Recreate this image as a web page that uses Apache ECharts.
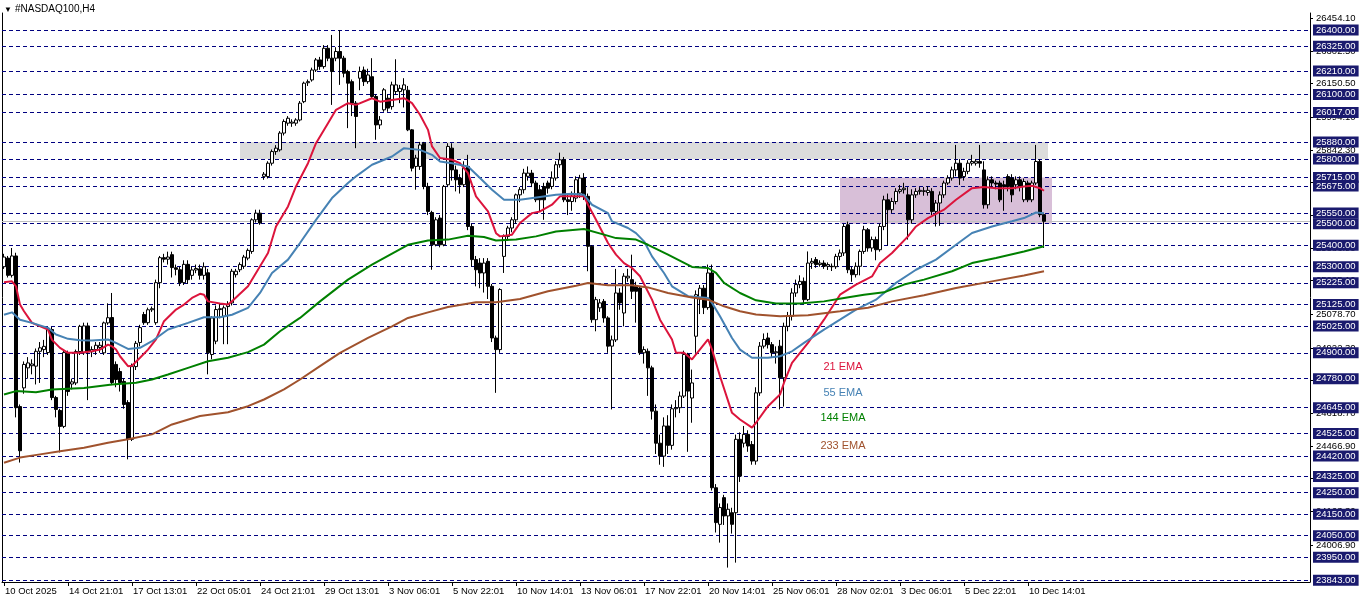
<!DOCTYPE html>
<html><head><meta charset="utf-8">
<script src="https://cdn.jsdelivr.net/npm/echarts@6/dist/echarts.min.js"></script>
<style>html,body{margin:0;padding:0;background:#fff}#c{width:1362px;height:603px}</style>
</head><body><div id="c"></div>
<script>
// ---- DATA ----
const title = '#NASDAQ100,H4';
const xTickLabels = ['10 Oct 2025','14 Oct 21:01','17 Oct 13:01','22 Oct 05:01','24 Oct 21:01','29 Oct 13:01','3 Nov 06:01','5 Nov 22:01','10 Nov 14:01','13 Nov 06:01','17 Nov 22:01','20 Nov 14:01','25 Nov 06:01','28 Nov 02:01','3 Dec 06:01','5 Dec 22:01','10 Dec 14:01'];
const barsPerTick = 16;
const totalSlots = 327;
const yScaleLabels = [26454.1,26302.5,26150.5,25994.1,25842.3,25690.5,25538.7,25386.9,25235.1,25078.7,24922.3,24770.5,24618.7,24466.9,24315.1,24163.3,24006.9];
const levelLines = [26400,26325,26210,26100,26017,25880,25800,25715,25675,25550,25500,25400,25300,25225,25125,25025,24900,24780,24645,24525,24420,24325,24250,24150,24050,23950,23843];
const bidPrice = 25509;
const grayZone = {from: 59, to: 261, low: 25800, high: 25880};
const purpleZone = {from: 209, to: 262, low: 25500, high: 25715};
// candles: [open, close, low, high]
const candles = [
[25300,25345,25290,25360],[25340,25260,25250,25350],[25260,25350,25250,25387],[25350,24645,24600,25365],[24650,24445,24390,24660],
[24737,24846,24710,24860],[24830,24853,24780,24880],[24840,24848,24800,24870],[24838,24907,24753,24920],[24907,24923,24760,24950],
[24915,24930,24880,24960],[24901,25008,24890,25020],[25008,24692,24680,25020],[24692,24637,24600,24700],[24632,24558,24437,24640],
[24558,24901,24550,24910],[24901,24720,24700,24910],[24755,24765,24730,24780],[24760,24906,24750,24915],[24906,25023,24890,25030],
[24900,25025,24890,25040],[25025,24905,24680,25040],[24905,24915,24880,24930],[24915,24935,24890,24950],[24925,24935,24900,24950],
[24900,25039,24890,25045],[25039,25063,25030,25130],[25064,24762,24750,25178],[24846,24776,24740,24860],[24813,24762,24720,24830],
[24767,24660,24640,24780],[24669,24498,24405,24680],[24498,24836,24490,24850],[24836,24944,24820,24955],[24948,25017,24930,25030],
[25078,25040,25030,25090],[25040,25100,25030,25110],[25100,25105,25090,25115],[25040,25226,25030,25240],[25226,25342,25200,25350],
[25342,25335,25320,25360],[25335,25345,25310,25370],[25356,25296,25250,25370],[25295,25288,25260,25310],[25286,25226,25210,25300],
[25226,25311,25215,25330],[25311,25240,25220,25330],[25260,25285,25240,25300],[25285,25292,25270,25310],[25290,25260,25240,25310],
[25260,25300,25240,25320],[25272,24900,24800,25290],[24892,25062,24870,25070],[24954,25101,24940,25120],[25101,25105,25060,25130],
[25070,25109,24940,25120],[25115,25124,24940,25140],[25132,25279,25120,25290],[25263,25279,25250,25290],[25286,25310,25275,25320],
[25302,25345,25290,25355],[25340,25376,25330,25385],[25371,25518,25360,25525],[25518,25549,25505,25565],[25549,25503,25495,25565],
[25720,25730,25704,25740],[25719,25781,25710,25790],[25781,25835,25770,25845],[25835,25851,25820,25865],[25843,25921,25835,25930],
[25921,25975,25910,25985],[25967,25990,25955,26000],[25967,25972,25950,25985],[25967,25982,25955,25990],[25982,26060,25975,26070],
[26067,26153,26060,26160],[26155,26160,26140,26170],[26168,26214,26160,26225],[26214,26261,26205,26270],[26261,26230,26215,26275],
[26230,26315,26220,26330],[26315,26269,26255,26330],[26269,26207,26052,26377],[26269,26300,26255,26320],[26300,26269,26145,26400],
[26269,26199,26180,26280],[26207,26153,25944,26215],[26160,26060,26000,26170],[26060,25998,25851,26070],[26176,26207,26120,26230],
[26214,26160,26140,26230],[26160,26191,26150,26220],[26183,26091,26080,26269],[26091,25959,25890,26100],[25959,25982,25940,26000],
[26029,26122,26020,26130],[26083,26037,26020,26100],[26044,26145,26030,26160],[26114,26145,26100,26264],[26114,26129,26060,26145],
[26122,26145,26040,26176],[26120,25936,25930,26140],[25936,25758,25743,25940],[25766,25805,25658,25820],[25766,25866,25750,25880],
[25874,25673,25660,25880],[25673,25557,25540,25690],[25552,25402,25286,25560],[25402,25518,25395,25530],[25526,25402,25390,25540],
[25402,25673,25395,25680],[25681,25859,25670,25874],[25851,25750,25700,25874],[25750,25704,25650,25770],[25712,25681,25640,25730],
[25681,25758,25670,25790],[25766,25487,25470,25820],[25487,25333,25300,25500],[25333,25286,25209,25350],[25317,25271,25200,25340],
[25271,25317,25180,25340],[25325,25209,25150,25340],[25209,24969,24950,25220],[24969,24915,24714,24980],[24915,25194,24900,25200],
[25348,25441,25271,25450],[25441,25480,25420,25490],[25480,25518,25460,25530],[25518,25634,25500,25640],[25634,25658,25600,25670],
[25658,25735,25640,25755],[25720,25735,25700,25766],[25735,25689,25670,25750],[25689,25611,25600,25700],[25658,25611,25557,25680],
[25673,25611,25518,25690],[25689,25665,25640,25700],[25673,25712,25660,25743],[25712,25774,25700,25790],[25774,25797,25760,25830],
[25797,25611,25600,25810],[25611,25603,25540,25640],[25603,25627,25560,25650],[25619,25704,25600,25720],[25642,25712,25620,25727],
[25712,25627,25610,25735],[25627,25395,25279,25640],[25395,25054,25040,25400],[25054,25147,25000,25160],[25109,25132,25090,25150],
[25139,25062,25040,25150],[25062,24931,24900,25070],[24931,24960,24637,24980],[24960,25178,24950,25290],[25178,25132,25100,25200],
[25085,25256,25023,25270],[25248,25256,25230,25290],[25240,25186,25150,25356],[25209,25186,25040,25230],[25201,24900,24890,25210],
[24900,24915,24850,24930],[24907,24830,24700,24920],[24830,24629,24590,24840],[24629,24480,24430,24660],[24480,24420,24380,24520],
[24420,24560,24370,24600],[24560,24470,24430,24610],[24470,24640,24450,24660],[24640,24645,24600,24680],[24645,24699,24620,24720],
[24699,24892,24690,24910],[24892,24722,24440,24900],[24690,24760,24575,24822],[24977,25170,24900,25190],[25150,25200,25080,25215],
[25200,25110,25080,25215],[25110,25271,25100,25310],[25271,24273,24260,25310],[24273,24111,24065,24290],[24103,24181,24018,24200],
[24227,24142,24100,24240],[24142,24173,23902,24200],[24157,24103,24060,24180],[24157,24498,23925,24520],[24498,24327,24300,24530],
[24480,24521,24460,24560],[24521,24467,24440,24540],[24474,24397,24380,24490],[24397,24714,24380,24740],[24714,24931,24700,24950],
[24931,24962,24920,24990],[24969,24938,24920,24993],[24938,24900,24880,24950],[24900,24905,24850,24930],[24931,24784,24637,24960],
[24784,25023,24650,25040],[25023,25070,25000,25090],[25070,25178,25050,25200],[25178,25217,25160,25240],[25217,25232,25200,25260],
[25232,25147,25130,25250],[25147,25317,25140,25371],[25317,25325,25290,25340],[25333,25310,25295,25345],[25310,25317,25300,25330],
[25317,25302,25290,25330],[25302,25310,25285,25320],[25302,25300,25280,25315],[25300,25348,25290,25360],[25348,25364,25330,25380],
[25364,25487,25350,25500],[25495,25286,25270,25510],[25286,25263,25230,25300],[25263,25302,25250,25320],[25302,25371,25260,25380],
[25371,25472,25360,25490],[25472,25387,25370,25480],[25387,25426,25370,25440],[25426,25379,25330,25440],[25379,25487,25370,25500],
[25487,25611,25470,25630],[25611,25565,25400,25640],[25565,25603,25550,25620],[25603,25650,25590,25665],[25650,25658,25640,25680],
[25658,25665,25640,25690],[25634,25518,25426,25670],[25518,25634,25500,25660],[25634,25650,25620,25665],[25650,25655,25635,25670],
[25650,25653,25630,25670],[25645,25655,25630,25675],[25650,25557,25540,25665],[25557,25596,25487,25610],[25596,25634,25490,25650],
[25634,25689,25620,25700],[25689,25712,25680,25725],[25712,25750,25700,25765],[25750,25781,25720,25866],[25781,25712,25680,25800],
[25719,25743,25700,25760],[25743,25781,25730,25795],[25781,25789,25770,25820],[25781,25790,25770,25800],[25789,25781,25760,25866],
[25750,25588,25570,25790],[25588,25704,25570,25720],[25704,25689,25670,25720],[25689,25684,25660,25700],[25689,25611,25600,25700],
[25681,25673,25560,25700],[25719,25673,25650,25730],[25712,25634,25600,25730],[25681,25704,25660,25720],[25704,25673,25650,25720],
[25611,25696,25600,25710],[25689,25611,25600,25700],[25611,25689,25600,25700],[25689,25789,25680,25866],[25789,25542,25530,25800],
[25542,25511,25387,25550]
];
// EMA readings: [barIndex, value]
const ema21 = [[0,25228],[2,25232],[3,25209],[4,25124],[5,25093],[7,25039],[11,25008],[12,24960],[14,24923],[16,24900],[19,24900],[22,24907],[24,24915],[26,24938],[27,24930],[28,24915],[29,24884],[31,24838],[32,24840],[34,24877],[36,24915],[38,24962],[40,25047],[43,25101],[45,25124],[47,25155],[49,25174],[50,25170],[51,25139],[54,25129],[56,25124],[57,25140],[61,25209],[63,25271],[66,25364],[68,25487],[71,25580],[73,25673],[76,25781],[78,25874],[81,25967],[83,26029],[86,26060],[88,26052],[92,26083],[94,26067],[97,26075],[100,26083],[102,26060],[104,26006],[106,25936],[107,25859],[109,25805],[112,25797],[114,25781],[116,25735],[118,25627],[121,25557],[123,25456],[124,25441],[127,25449],[129,25503],[132,25549],[134,25557],[137,25588],[139,25627],[142,25627],[145,25627],[146,25588],[148,25518],[151,25410],[153,25356],[155,25317],[157,25294],[159,25256],[162,25147],[164,25054],[167,24962],[168,24900],[170,24900],[172,24869],[176,24962],[177,24915],[179,24791],[182,24621],[184,24590],[187,24552],[188,24575],[191,24652],[194,24706],[195,24761],[197,24853],[201,24946],[205,25054],[209,25170],[213,25217],[217,25255],[219,25317],[222,25364],[226,25441],[228,25487],[231,25526],[235,25565],[238,25611],[242,25665],[245,25670],[248,25665],[252,25665],[255,25673],[257,25676],[259,25665],[260,25653]];
const ema55 = [[0,25077],[2,25088],[4,25054],[7,25039],[11,25016],[13,24985],[16,24965],[19,24958],[22,24957],[26,24962],[28,24946],[31,24918],[34,24923],[37,24954],[41,25008],[46,25039],[50,25065],[54,25065],[57,25077],[61,25109],[64,25178],[67,25271],[71,25333],[74,25410],[78,25518],[82,25619],[86,25689],[88,25720],[92,25774],[97,25812],[100,25851],[104,25843],[107,25820],[109,25789],[112,25781],[116,25766],[119,25712],[122,25658],[125,25611],[129,25611],[134,25624],[138,25634],[142,25639],[145,25634],[147,25588],[151,25549],[152,25511],[156,25480],[158,25456],[160,25418],[162,25348],[165,25271],[167,25209],[171,25163],[176,25155],[177,25132],[179,25070],[182,24969],[184,24915],[187,24877],[191,24877],[194,24884],[197,24907],[200,24946],[205,25008],[209,25054],[213,25101],[218,25147],[223,25225],[228,25286],[233,25333],[238,25402],[242,25457],[247,25487],[252,25511],[255,25526],[258,25552],[260,25549]];
const ema144 = [[0,24706],[3,24722],[8,24717],[12,24730],[20,24737],[27,24753],[33,24761],[37,24776],[41,24799],[46,24830],[51,24861],[56,24877],[61,24903],[65,24938],[69,25000],[74,25062],[79,25139],[86,25240],[92,25310],[101,25402],[106,25422],[111,25426],[116,25444],[120,25438],[123,25422],[128,25426],[133,25441],[138,25464],[145,25475],[150,25449],[153,25433],[158,25426],[161,25402],[166,25356],[172,25299],[176,25294],[178,25271],[180,25225],[184,25178],[188,25144],[193,25129],[199,25129],[205,25139],[210,25155],[215,25170],[220,25181],[225,25217],[230,25240],[237,25279],[242,25317],[248,25341],[255,25371],[260,25395]];
const ema233 = [[0,24389],[4,24413],[9,24428],[14,24443],[20,24459],[26,24482],[31,24498],[37,24521],[42,24567],[49,24606],[56,24624],[61,24652],[65,24683],[70,24730],[74,24776],[79,24838],[84,24900],[91,24969],[97,25023],[101,25062],[106,25088],[111,25113],[118,25135],[123,25135],[129,25150],[136,25186],[143,25212],[146,25224],[151,25214],[157,25214],[161,25204],[166,25178],[172,25157],[176,25147],[180,25116],[184,25093],[188,25078],[194,25070],[201,25075],[209,25093],[216,25109],[222,25139],[230,25167],[238,25201],[247,25232],[255,25259],[260,25279]];
const emaNames = ['21 EMA','55 EMA','144 EMA','233 EMA'];
const emaColors = ['#dc143c','#4682b4','#008000','#a0522d'];

// ---- CHART ----
const FONT = 'Liberation Sans, Arial, sans-serif';
const cats = [];
for (let i = 0; i < totalSlots; i++) {
  cats.push(i % barsPerTick === 0 && (i / barsPerTick) < xTickLabels.length ? xTickLabels[i / barsPerTick] : '');
}
const isTick = (i) => i % barsPerTick === 0 && (i / barsPerTick) < xTickLabels.length;
const YMIN = 23835, YMAX = 26479;
const chart = echarts.init(document.getElementById('c'), null, {renderer: 'canvas'});
const emaSeries = [ema21, ema55, ema144, ema233].map((d, k) => ({
  type: 'line', name: emaNames[k], data: d, showSymbol: false, symbol: 'none',
  lineStyle: {color: emaColors[k], width: 2}, z: 6, silent: true, animation: false
}));
chart.setOption({
  animation: false,
  backgroundColor: '#fff',
  grid: {left: 2, width: 1308, top: 13, bottom: 21, containLabel: false},
  xAxis: {
    type: 'category', data: cats, boundaryGap: true,
    axisLine: {show: true, lineStyle: {color: '#000', width: 1}},
    axisTick: {show: true, alignWithLabel: true, interval: (i) => isTick(i), length: 4, lineStyle: {color: '#000'}},
    axisLabel: {interval: (i) => isTick(i), align: 'left', color: '#000', fontSize: 9.5, fontFamily: FONT, margin: 4, padding: [0,0,0,1]},
    splitLine: {show: false}
  },
  yAxis: [{
    type: 'value', position: 'right', min: YMIN, max: YMAX,
    axisLine: {show: true, lineStyle: {color: '#000', width: 1}},
    axisTick: {show: true, length: 3, customValues: yScaleLabels, lineStyle: {color: '#000'}},
    axisLabel: {customValues: yScaleLabels, formatter: (v) => v.toFixed(2), color: '#000', fontSize: 9.5, fontFamily: FONT, margin: 6},
    splitLine: {show: false}
  }, {
    type: 'value', position: 'left', min: YMIN, max: YMAX,
    axisLine: {show: true, lineStyle: {color: '#000', width: 1}},
    axisTick: {show: false}, axisLabel: {show: false}, splitLine: {show: false}
  }],
  series: [
    {
      type: 'line', name: 'levels', data: [], silent: true, z: 2,
      markLine: {
        silent: true, symbol: ['none', 'none'], z: 2,
        data: [{yAxis: bidPrice, lineStyle: {color: '#c0c0c0', type: 'solid', width: 1}, label: {show: false}}]
          .concat(levelLines.map(v => ({yAxis: v}))),
        lineStyle: {color: '#000080', type: [4, 3], width: 1},
        label: {show: true, position: 'end', distance: 3, formatter: (p) => p.value.toFixed(2),
          backgroundColor: '#1a1a6e', color: '#fff', fontSize: 9.5, fontFamily: FONT, padding: [1, 3, 0, 3], lineHeight: 10}
      },
      markArea: {
        silent: true,
        data: [
          [{xAxis: grayZone.from, yAxis: grayZone.high, itemStyle: {color: '#dcdcdc'}}, {xAxis: grayZone.to, yAxis: grayZone.low}],
          [{xAxis: purpleZone.from, yAxis: purpleZone.high, itemStyle: {color: '#d8bfd8'}}, {xAxis: purpleZone.to, yAxis: purpleZone.low}]
        ]
      }
    },
    {
      type: 'candlestick', name: 'price', data: candles, barWidth: 3, z: 4, silent: true,
      itemStyle: {color: '#ffffff', color0: '#000000', borderColor: '#000000', borderColor0: '#000000', borderWidth: 1}
    }
  ].concat(emaSeries),
  graphic: [
    {type: 'text', left: 4, top: 6, style: {text: '\u25BC', fill: '#000', font: '8px ' + FONT}},
    {type: 'text', left: 15, top: 4, style: {text: title, fill: '#000', font: '10px ' + FONT}},
    {type: 'text', x: 843, y: 367, style: {text: emaNames[0], fill: emaColors[0], font: '11px ' + FONT, textAlign: 'center', textVerticalAlign: 'middle'}},
    {type: 'text', x: 843, y: 393, style: {text: emaNames[1], fill: emaColors[1], font: '11px ' + FONT, textAlign: 'center', textVerticalAlign: 'middle'}},
    {type: 'text', x: 843, y: 418, style: {text: emaNames[2], fill: emaColors[2], font: '11px ' + FONT, textAlign: 'center', textVerticalAlign: 'middle'}},
    {type: 'text', x: 843, y: 446, style: {text: emaNames[3], fill: emaColors[3], font: '11px ' + FONT, textAlign: 'center', textVerticalAlign: 'middle'}}
  ]
});
</script></body></html>
